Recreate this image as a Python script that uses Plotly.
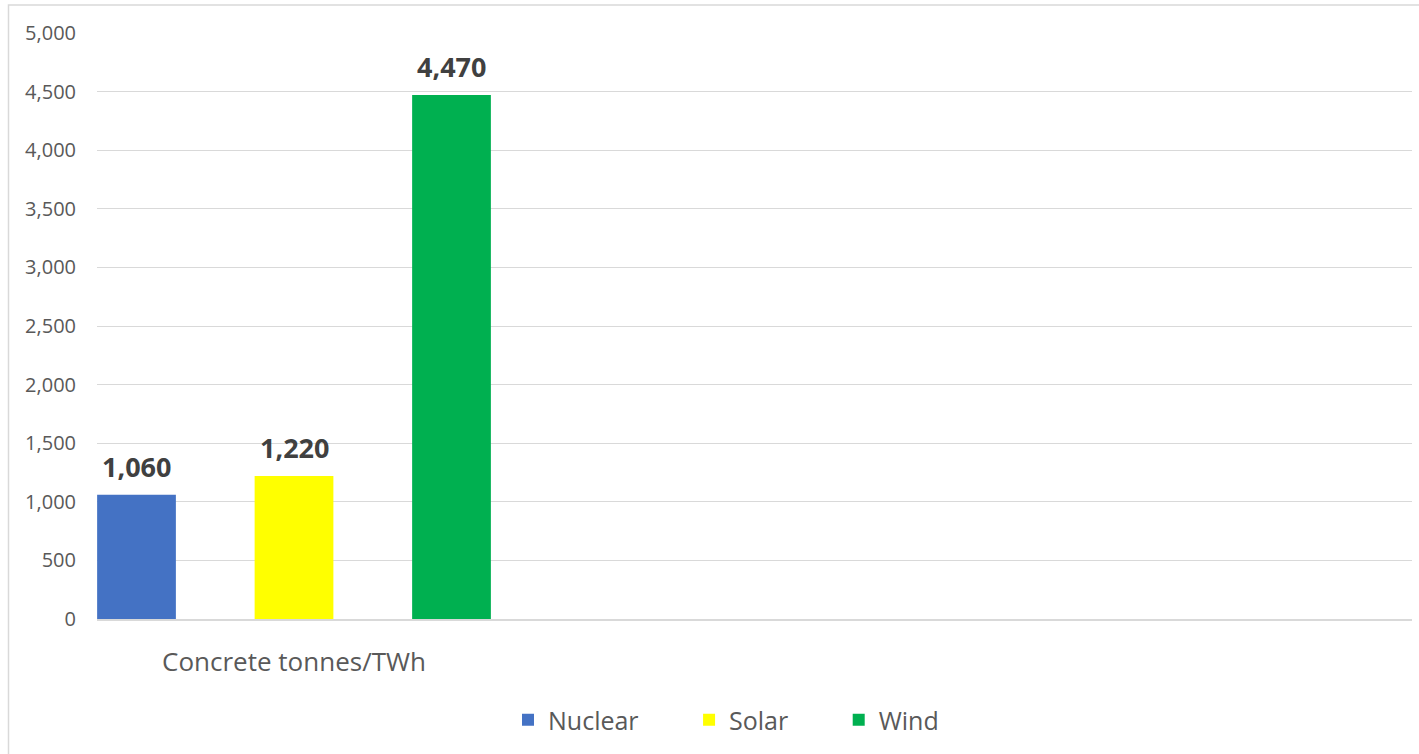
import plotly.graph_objects as go

# Concrete use per unit of electricity generated
category = "Concrete tonnes/TWh"
sources = ["Nuclear", "Solar", "Wind"]
values = [1060, 1220, 4470]
colors = ["#4472C4", "#FFFF00", "#00B050"]

y_ticks = list(range(0, 5001, 500))

W, H = 1419, 754
L, R, T, B = 97, 7, 33, 135

FONT = "Open Sans"
GRAY = "#595959"
GRID = "#D9D9D9"
NBSP = "\u00a0"

fig = go.Figure()
for i, (name, val, col) in enumerate(zip(sources, values, colors)):
    fig.add_trace(go.Bar(
        x=[i], y=[val], name=name + NBSP * 7, width=0.5,
        marker=dict(color=col, line=dict(width=0)),
        cliponaxis=False,
    ))
    # value label above each bar
    fig.add_annotation(
        x=i, y=val, xref="x", yref="y", text=f"<b>{val:,}</b>",
        showarrow=False, yanchor="bottom", yshift=8,
        font=dict(family=FONT, size=27, color="#404040"),
    )

plot_w = W - L - R
plot_h = H - T - B
unit = 157.5  # pixels between adjacent bar centres
x0 = -39.5 / unit
x1 = x0 + plot_w / unit

fig.update_layout(
    width=W, height=H,
    margin=dict(l=L, r=R, t=T, b=B, pad=0),
    paper_bgcolor="white", plot_bgcolor="white",
    font=dict(family=FONT, color=GRAY),
    barmode="group",
    xaxis=dict(
        range=[x0, x1], showgrid=False, zeroline=False,
        showline=True, linecolor=GRID, linewidth=1.5,
        tickvals=[1], ticktext=[category], ticks="",
        tickfont=dict(family=FONT, size=26, color=GRAY),
        ticklabelstandoff=19,
    ),
    yaxis=dict(
        range=[0, 5000], tickvals=y_ticks,
        ticktext=[f"{v:,}" for v in y_ticks],
        showgrid=True, gridcolor=GRID, gridwidth=1.3,
        zeroline=False, showline=False, ticks="",
        tickfont=dict(family=FONT, size=20, color=GRAY),
        ticklabelstandoff=20,
    ),
    legend=dict(
        orientation="h", x=(508 - L) / plot_w, xanchor="left",
        y=-(720 - (H - B)) / plot_h, yanchor="middle",
        font=dict(family=FONT, size=25, color=GRAY),
        itemwidth=30, traceorder="normal",
    ),
    showlegend=True,
)

# Chart-area frame
fig.add_shape(
    type="rect", xref="paper", yref="paper",
    x0=(8.5 - L) / plot_w, x1=(W + 5 - L) / plot_w,
    y0=-(B + 5) / plot_h,
    y1=1 + (T - 5) / plot_h,
    line=dict(color=GRID, width=1.5), fillcolor="rgba(0,0,0,0)", layer="below",
)

fig.write_html("out.html")
